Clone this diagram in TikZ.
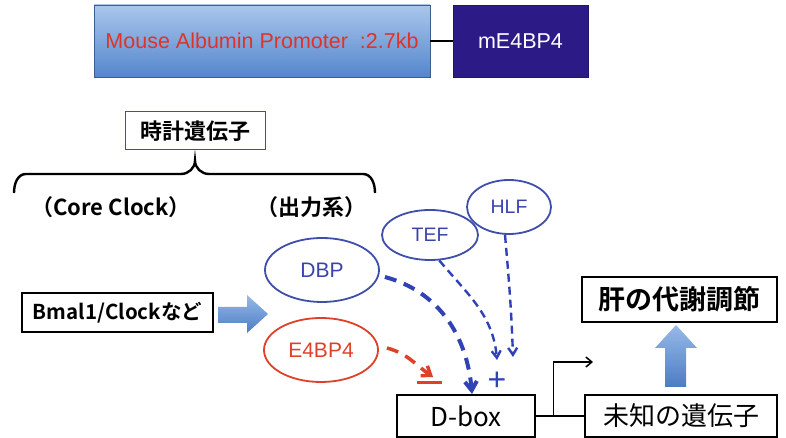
\documentclass[tikz,border=0pt]{standalone}
\usepackage{fontspec}
\setmainfont{Liberation Sans}
\newfontfamily\jp{Noto Sans CJK JP}[BoldFont={Noto Sans CJK JP Bold}]
\usetikzlibrary{calc}
\usetikzlibrary{shapes.geometric}
\usetikzlibrary{arrows.meta}
\definecolor{promtop}{RGB}{170,198,236}
\definecolor{prombot}{RGB}{84,134,204}
\definecolor{genefill}{RGB}{44,26,134}
\definecolor{promtext}{RGB}{222,52,40}
\definecolor{eblue}{RGB}{62,78,170}
\definecolor{tblue}{RGB}{58,68,168}
\definecolor{dblue}{RGB}{48,66,182}
\definecolor{ered}{RGB}{222,64,40}
\definecolor{arrtop}{RGB}{150,186,232}
\definecolor{arrbot}{RGB}{78,124,196}

\begin{document}
\begin{tikzpicture}[unit length/.code={{\newdimen\tikzunit}\setlength{\tikzunit}{#1}},unit length=1pt,x=\tikzunit,y=\tikzunit,line cap=butt,box/.style={rectangle,draw,solid,sharp corners,inner sep=0},jbox/.style={box,line width=2,font=\jp\fontsize{26}{30}\selectfont},gene/.style={ellipse,draw=eblue,line width=1.8,inner sep=0,text=tblue,font=\fontsize{21}{24}\selectfont},wire/.style={draw,line width=1.5},dash blue/.style={draw=dblue,dash pattern=on 8 off 5,-{Straight Barb[length=7,width=9]}}]
  \useasboundingbox (0,0) rectangle (786,438);
  \node[box,draw=prombot!70!black,line width=0.6,top color=promtop,bottom color=prombot,minimum width=336\tikzunit,minimum height=72\tikzunit,text=promtext,font=\fontsize{21.5}{24}\selectfont] (prom) at (262,397) {Mouse Albumin Promoter\ \ :2.7kb};
  \node[box,draw=genefill!80!black,line width=0.6,fill=genefill,minimum width=135\tikzunit,minimum height=72\tikzunit,text=white,font=\fontsize{21.5}{24}\selectfont] (mgene) at (520.5,397) {mE4BP4};
  \node[box,draw=brown!60!black,line width=1,minimum width=140\tikzunit,minimum height=38\tikzunit,font=\jp\bfseries\fontsize{22}{26}\selectfont] (clock) at (195,307) {時計遺伝子};
  \node[font=\jp\bfseries\fontsize{22}{26}\selectfont] (core) at (111,231) {（Core Clock）};
  \node[font=\jp\bfseries\fontsize{22}{26}\selectfont] (output) at (311,231) {（出力系）};
  \node[box,line width=1.2,minimum width=191\tikzunit,minimum height=39\tikzunit,font=\jp\bfseries\fontsize{20.5}{24}\selectfont] (bmal) at (117.5,125.5) {Bmal1/Clockなど};
  \node[gene,minimum width=114\tikzunit,minimum height=64\tikzunit] (dbp) at (322,168) {DBP};
  \node[gene,draw=ered,text=ered,minimum width=114\tikzunit,minimum height=64\tikzunit] (e4bp4) at (321,88) {E4BP4};
  \node[gene,font=\fontsize{19.5}{22}\selectfont,minimum width=96\tikzunit,minimum height=50\tikzunit] (tef) at (430,203) {TEF};
  \node[gene,font=\fontsize{19.5}{22}\selectfont,minimum width=84\tikzunit,minimum height=54\tikzunit] (hlf) at (509,231) {HLF};
  \node[jbox,minimum width=138\tikzunit,minimum height=42\tikzunit] (dbox) at (466,22) {D-box};
  \node[jbox,minimum width=192\tikzunit,minimum height=42\tikzunit] (unknown) at (681,22) {未知の遺伝子};
  \node[jbox,font=\jp\bfseries\fontsize{27}{30}\selectfont,minimum width=195\tikzunit,minimum height=45\tikzunit] (liver) at (679.5,138.5) {肝の代謝調節};
  \node[text=dblue,font=\fontsize{32}{32}\selectfont,inner sep=0] (plus) at (497,57) {+};
  \coordinate (split) at ($(dbox.east)!0.36!(unknown.west)$);
  \coordinate (tip) at (593,76);
  \coordinate (bar1) at (417,55);
  \coordinate (bar2) at (442,55);
  % block arrows
  \shade[top color=arrtop,bottom color=arrbot] (218,131) -- (247,131) -- (247,143) -- (268,124) -- (247,105) -- (247,115) -- (218,115) -- cycle;
  \shade[top color=arrtop,bottom color=arrbot] (665,51) -- (665,90) -- (655,90) -- (676,113) -- (697,90) -- (686,90) -- (686,51) -- cycle;
  % brace
  \path[wire,line width=2.4] (14,245) to[out=90,in=180] (26,264) -- (181,264) to[out=0,in=-90] ($(clock.south)+(0,-10)$) to[out=-90,in=180] (209,264) -- (363,264) to[out=0,in=90] (375,245);
  \path[wire,line width=2] (prom.east) -- (mgene.west);
  \path[wire] (dbox.east) -- (unknown.west);
  \path[wire,-{Straight Barb[length=6,width=10]}] (split) |- (tip);
  \path[dash blue,line width=4,dash pattern=on 12 off 8,-{Straight Barb[length=9,width=12]}] ($(dbp.east)+(5,-7)$) to[out=-15,in=95] ($(dbox.north)+(6,0)$);
  \path[dash blue,line width=2.4] (tef.-70) to[out=-50,in=95] (497,78);
  \path[dash blue,line width=2.4] ($(hlf.south)+(-4,0)$) to[out=-85,in=92] (513,81);
  \path[draw=ered,line width=3.5,dash pattern=on 12 off 8,-{Straight Barb[length=8,width=12]}] ($(e4bp4.east)+(8,2)$) to[out=-15,in=145] (433,61);
  \path[draw=ered,line width=3] (bar1) -- (bar2);
\end{tikzpicture}
\end{document}
